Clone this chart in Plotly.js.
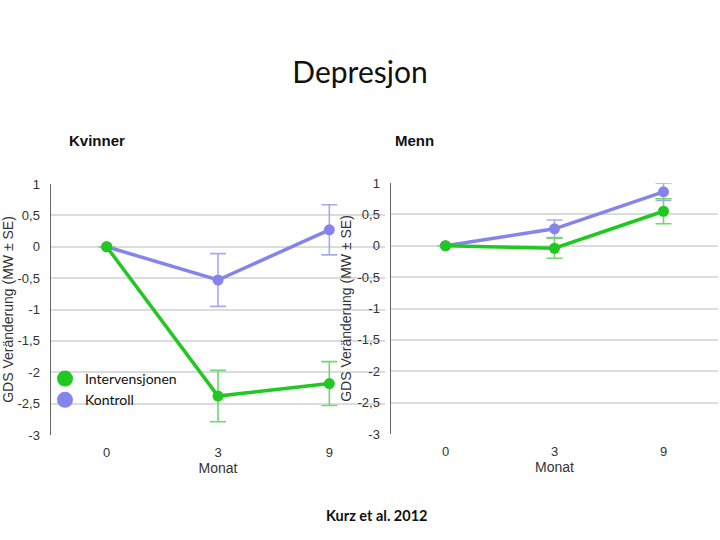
<!DOCTYPE html>
<html>
<head>
<meta charset="utf-8">
<script src="https://cdn.plot.ly/plotly-3.0.1.min.js"></script>
<style>html,body{margin:0;padding:0;background:#fff;}#chart{width:720px;height:540px;}</style>
</head>
<body>
<div id="chart"></div>
<script>
// Data
const months = ['0', '3', '9'];
const yTickVals = [-3, -2.5, -2, -1.5, -1, -0.5, 0, 0.5, 1];
const yTickText = ['-3', '-2,5', '-2', '-1,5', '-1', '-0,5', '0', '0,5', '1'];

const womenIntervention = [0, -2.38, -2.18];
const womenInterventionSE = [0, 0.41, 0.35];
const womenControl = [0, -0.53, 0.27];
const womenControlSE = [0, 0.42, 0.40];

const menIntervention = [0, -0.04, 0.55];
const menInterventionSE = [0, 0.16, 0.20];
const menControl = [0, 0.27, 0.86];
const menControlSE = [0, 0.14, 0.14];

const seriesNames = ['Intervensjonen', 'Kontroll'];

const green = '#22c822';
const purple = '#8484ec';
const greenErr = '#6fd86f';
const purpleErr = '#a9a9ef';

function trace(y, se, color, errColor, xa, ya) {
  return {
    x: months, y: y, xaxis: xa, yaxis: ya,
    type: 'scatter', mode: 'lines+markers',
    line: {color: color, width: 3.5},
    marker: {color: color, size: 11},
    error_y: {type: 'data', array: se, visible: true, color: errColor, thickness: 1.6, width: 8},
    showlegend: false, cliponaxis: false, hoverinfo: 'x+y'
  };
}

const data = [
  trace(womenControl, womenControlSE, purple, purpleErr, 'x', 'y'),
  trace(womenIntervention, womenInterventionSE, green, greenErr, 'x', 'y'),
  trace(menControl, menControlSE, purple, purpleErr, 'x2', 'y2'),
  trace(menIntervention, menInterventionSE, green, greenErr, 'x2', 'y2'),
  {x: [null], y: [null], type: 'scatter', mode: 'markers', name: seriesNames[0],
   marker: {color: green, size: 16}, xaxis: 'x', yaxis: 'y', showlegend: true},
  {x: [null], y: [null], type: 'scatter', mode: 'markers', name: seriesNames[1],
   marker: {color: purple, size: 16}, xaxis: 'x', yaxis: 'y', showlegend: true}
];

const tickFont = {family: 'Liberation Sans, Arial, sans-serif', size: 13, color: '#333'};
const titleFont = {family: 'Liberation Sans, Arial, sans-serif', size: 14, color: '#333'};

function yaxis(domain, anchor) {
  return {
    domain: domain, anchor: anchor, range: [-3, 1],
    tickvals: yTickVals, ticktext: yTickText, tickfont: tickFont,
    showline: true, linecolor: '#666', linewidth: 1.5,
    showgrid: true, gridcolor: '#dcdcdc', gridwidth: 2,
    zeroline: false, ticks: '', ticklabelstandoff: 7,
    title: {text: 'GDS Veränderung (MW ± SE)', font: titleFont, standoff: 2},
    fixedrange: true
  };
}
function xaxis(domain, anchor) {
  return {
    domain: domain, anchor: anchor, type: 'category', categoryorder: 'array',
    categoryarray: months, range: [-0.5, 2.5], tickfont: tickFont,
    showline: false, showgrid: false, zeroline: false, ticks: '', ticklabelstandoff: 8,
    title: {text: 'Monat', font: titleFont, standoff: 2},
    fixedrange: true
  };
}

const layout = {
  width: 720, height: 540,
  margin: {l: 0, r: 0, t: 0, b: 0},
  paper_bgcolor: '#ffffff', plot_bgcolor: '#ffffff',
  title: {text: 'Depresjon', x: 0.5, xref: 'paper', y: 1 - 72 / 540, yref: 'container',
          yanchor: 'middle', font: {family: 'Lato, Open Sans, sans-serif', size: 30, color: '#111'}},
  xaxis: xaxis([51 / 720, 385 / 720], 'y'),
  yaxis: yaxis([1 - 435 / 540, 1 - 184 / 540], 'x'),
  xaxis2: xaxis([391 / 720, 718 / 720], 'y2'),
  yaxis2: yaxis([1 - 434 / 540, 1 - 183 / 540], 'x2'),
  showlegend: true,
  legend: {x: 45 / 720, xanchor: 'left', y: 1 - 363 / 540, yanchor: 'top',
           bgcolor: 'rgba(0,0,0,0)', borderwidth: 0, tracegroupgap: 0,
           font: {family: 'Lato, Open Sans, sans-serif', size: 14, color: '#111'}},
  annotations: [
    {text: '<b>Kvinner</b>', x: 97 / 720, y: 1 - 141 / 540, xref: 'paper', yref: 'paper',
     showarrow: false, xanchor: 'center', yanchor: 'middle',
     font: {family: 'Liberation Sans, Arial, sans-serif', size: 15, color: '#111'}},
    {text: '<b>Menn</b>', x: 415 / 720, y: 1 - 141 / 540, xref: 'paper', yref: 'paper',
     showarrow: false, xanchor: 'center', yanchor: 'middle',
     font: {family: 'Liberation Sans, Arial, sans-serif', size: 15, color: '#111'}},
    {text: '<b>Kurz et al. 2012</b>', x: 377 / 720, y: 1 - 515 / 540, xref: 'paper', yref: 'paper',
     showarrow: false, xanchor: 'center', yanchor: 'middle',
     font: {family: 'Lato, Open Sans, sans-serif', size: 14.5, color: '#111'}}
  ]
};

Plotly.newPlot('chart', data, layout, {staticPlot: true, displayModeBar: false});
</script>
</body>
</html>
